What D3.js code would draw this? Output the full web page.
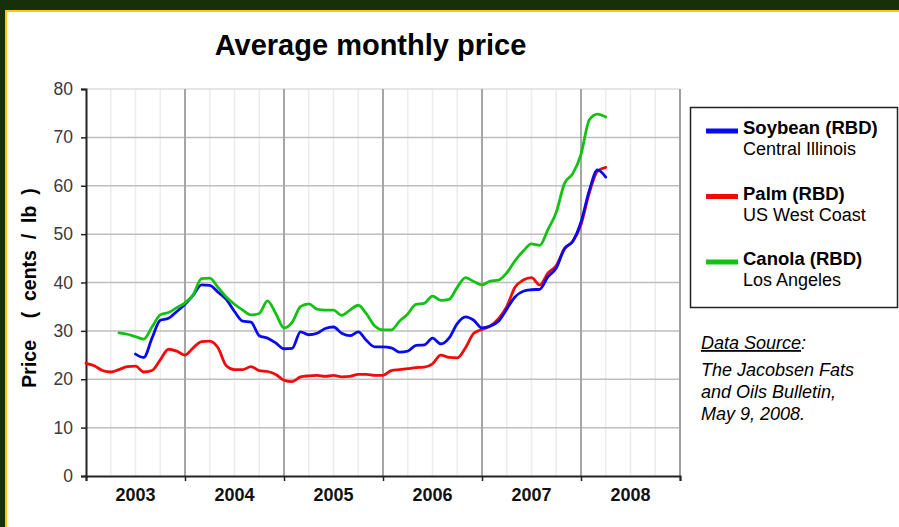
<!DOCTYPE html>
<html><head><meta charset="utf-8">
<script src="https://cdn.jsdelivr.net/npm/d3@7"></script>
<style>body{margin:0;background:#fff;font-family:Arial,"Liberation Sans",sans-serif}</style>
</head><body><svg id="c" width="899" height="527"></svg>
<script>
const years = ["2003","2004","2005","2006","2007","2008"];
const yTicks = [0,10,20,30,40,50,60,70,80];
// monthly values, index 0 = Jan 2003 ... 63 = Apr 2008 (null = no data)
const palm = [23.3,22.8,21.8,21.5,22.0,22.6,22.7,21.5,21.8,24.0,26.2,25.8,
  25.0,26.5,27.8,27.9,26.5,22.8,22.0,22.0,22.6,21.8,21.6,21.0,
  19.8,19.5,20.5,20.7,20.8,20.6,20.8,20.5,20.6,21.0,21.0,20.8,
  20.8,21.8,22.0,22.2,22.4,22.5,23.2,25.0,24.5,24.4,26.5,29.5,
  30.3,31.0,32.5,35.0,39.0,40.5,41.0,39.5,42.0,43.5,47.0,48.5,
  52.0,58.5,63.0,63.8];
const soybean = [null,null,null,null,null,null,25.2,24.5,28.5,32.2,32.6,34.0,
  35.5,37.4,39.5,39.4,38.0,36.5,34.0,32.0,31.8,29.0,28.5,27.5,
  26.3,26.4,29.8,29.2,29.5,30.5,30.8,29.5,29.0,29.8,28.0,26.7,
  26.7,26.5,25.6,25.8,27.0,27.1,28.5,27.3,28.5,31.5,32.9,32.2,
  30.6,31.0,32.0,34.5,37.0,38.2,38.5,38.6,41.2,43.0,47.0,48.5,
  52.5,59.0,63.3,61.8];
const canola = [null,null,null,null,29.6,29.3,28.8,28.3,30.8,33.3,33.8,34.8,
  35.8,37.5,40.8,40.9,39.0,37.0,35.5,34.3,33.3,33.6,36.2,33.6,
  30.6,31.8,35.0,35.6,34.5,34.3,34.3,33.2,34.3,35.3,33.5,31.0,
  30.2,30.2,32.0,33.5,35.5,35.7,37.2,36.3,36.5,39.0,41.0,40.2,
  39.5,40.3,40.5,42.0,44.5,46.5,48.0,47.7,51.0,54.5,60.5,62.5,
  66.5,73.6,74.8,74.2];
const seriesNames = ["Soybean (RBD)","Palm (RBD)","Canola (RBD)"];
const seriesSubs = ["Central Illinois","US West Coast","Los Angeles"];
const seriesColors = ["#0a0aef","#f00a0a","#11c211"];

const svg = d3.select("#c");
// frame
svg.append("rect").attr("x",0).attr("y",0).attr("width",899).attr("height",11).attr("fill","#16300a");
svg.append("rect").attr("x",0).attr("y",0).attr("width",5).attr("height",527).attr("fill","#16300a");
svg.append("rect").attr("x",5).attr("y",10).attr("width",894).attr("height",2).attr("fill","#f4cc00");
svg.append("rect").attr("x",5).attr("y",10).attr("width",2).attr("height",517).attr("fill","#f4cc00");

const L=86,R=680,T=89,B=476;
const x = d3.scaleLinear().domain([0,72]).range([L,R]);
const y = d3.scaleLinear().domain([0,80]).range([B,T]);

// minor quarter gridlines
const g = svg.append("g");
g.selectAll("line.minor").data(d3.range(0,24).filter(q=>q%4!==0)).join("line")
  .attr("x1",q=>x(q*3)).attr("x2",q=>x(q*3)).attr("y1",T).attr("y2",B)
  .attr("stroke","#ececec").attr("stroke-width",1.5);
// horizontal gridlines
g.selectAll("line.h").data(yTicks.slice(1)).join("line")
  .attr("x1",L).attr("x2",R).attr("y1",d=>y(d)).attr("y2",d=>y(d))
  .attr("stroke",d=>d===80?"#dcdcdc":"#bdbdbd").attr("stroke-width",1.5);
// major year gridlines
g.selectAll("line.maj").data(d3.range(1,7)).join("line")
  .attr("x1",i=>x(i*12)).attr("x2",i=>x(i*12)).attr("y1",T).attr("y2",B)
  .attr("stroke",i=>i===6?"#a0a0a0":"#a6a6a6").attr("stroke-width",2);

const FF = "Arial, 'Liberation Sans', sans-serif";
// y axis
const yAxis = d3.axisLeft(y).tickValues(yTicks).tickSize(5).tickPadding(8);
const ya = svg.append("g").attr("transform",`translate(${L},0)`).call(yAxis);
ya.select(".domain").attr("stroke","#222").attr("stroke-width",2);
ya.selectAll(".tick line").attr("stroke","#222").attr("stroke-width",1.5);
ya.selectAll(".tick text").attr("font-size",17.5).attr("fill","#3a3a3a").attr("font-family",FF);

// x axis
const xb = d3.scaleBand().domain(years).range([L,R]);
const xAxis = d3.axisBottom(x).tickValues(d3.range(0,73,12)).tickSize(5).tickFormat("");
const xa = svg.append("g").attr("transform",`translate(0,${B})`).call(xAxis);
xa.select(".domain").attr("stroke","#222").attr("stroke-width",2);
xa.selectAll(".tick line").attr("stroke","#222").attr("stroke-width",1.5);
svg.append("g").selectAll("text").data(years).join("text")
  .attr("x",d=>xb(d)+xb.bandwidth()/2).attr("y",501)
  .attr("text-anchor","middle").attr("font-size",18).attr("font-weight","bold")
  .attr("fill","#111").text(d=>d);

// lines
const line = d3.line().defined(d=>d!=null).x((d,i)=>x(i)).y(d=>y(d)).curve(d3.curveMonotoneX);
[[palm,1],[soybean,0],[canola,2]].forEach(([arr,k])=>{
  svg.append("path").datum(arr).attr("d",line).attr("fill","none")
    .attr("stroke",seriesColors[k]).attr("stroke-width",2.8)
    .attr("stroke-linejoin","round").attr("stroke-linecap","round");
});

// title
svg.append("text").attr("x",370.5).attr("y",55).attr("text-anchor","middle")
  .attr("font-size",29).attr("font-weight","bold").attr("fill","#000").text("Average monthly price");
// y title
svg.append("text").attr("transform","translate(36,288) rotate(-90)").attr("text-anchor","middle")
  .attr("font-size",19.5).attr("font-weight","bold").attr("fill","#000")
  .style("white-space","pre").text("Price    (  cents  /  lb  )");

// legend
svg.append("rect").attr("x",690.5).attr("y",107.5).attr("width",207).attr("height",200)
  .attr("fill","#fff").attr("stroke","#222").attr("stroke-width",1.5);
const lg = svg.append("g").selectAll("g").data(seriesNames).join("g")
  .attr("transform",(d,i)=>`translate(0,${i*65.5})`);
lg.append("line").attr("x1",706).attr("x2",738).attr("y1",131).attr("y2",131)
  .attr("stroke",(d,i)=>seriesColors[i]).attr("stroke-width",5);
lg.append("text").attr("x",743).attr("y",134).attr("font-size",18.5).attr("font-weight","bold")
  .attr("fill","#000").text(d=>d);
lg.append("text").attr("x",743).attr("y",155).attr("font-size",18)
  .attr("fill","#000").text((d,i)=>seriesSubs[i]);

// data source
const src = ["The Jacobsen Fats","and Oils Bulletin,","May 9, 2008."];
const ds = svg.append("text").attr("x",701).attr("y",349).attr("font-size",18).attr("font-style","italic")
  .attr("fill","#000");
ds.append("tspan").attr("text-decoration","underline").text("Data Source");
ds.append("tspan").text(":");
svg.append("g").selectAll("text").data(src).join("text")
  .attr("x",701).attr("y",(d,i)=>376+i*22).attr("font-size",18).attr("font-style","italic")
  .attr("fill","#000").text(d=>d);
</script></body></html>
